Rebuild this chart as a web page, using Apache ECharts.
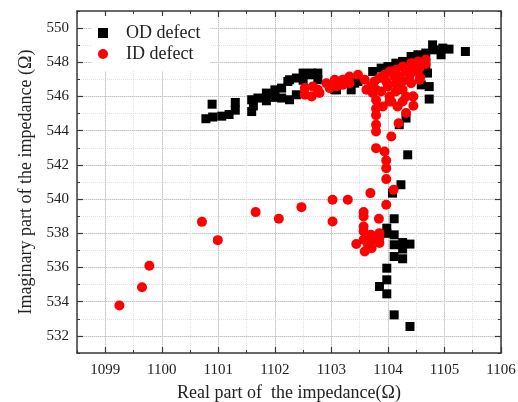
<!DOCTYPE html>
<html>
<head>
    <meta charset="utf-8">
    <title>impedance</title>
    <style type="text/css">
        * { margin: 0; padding: 0; }
        body { background: #fff; }
        #chart { width: 518px; height: 402px; }
    </style>
</head>
<body>
<div id="chart"></div>
<script src="https://cdn.jsdelivr.net/npm/echarts@6/dist/echarts.min.js"></script>
<script type="text/javascript">

    // OD defect (black squares)
    var odReal = [
        1100.78, 1100.90, 1100.89, 1101.06, 1101.19, 1101.30, 1101.30, 1101.59, 1101.59, 1101.62,
        1101.70, 1101.85, 1101.85, 1102.00, 1102.00, 1102.12, 1102.12, 1102.23, 1102.26, 1102.38,
        1102.38, 1102.50, 1102.65, 1102.76, 1102.76, 1102.50, 1102.62, 1102.26, 1103.06, 1103.09,
        1103.35, 1103.41, 1103.47, 1103.73, 1103.88, 1104.00, 1104.14, 1104.26, 1104.41, 1104.53,
        1104.67, 1104.79, 1104.82, 1104.94, 1104.97, 1105.08, 1105.37, 1104.67, 1104.70, 1104.73,
        1104.59, 1104.73, 1104.32, 1104.20, 1104.35, 1104.23, 1104.08, 1104.11, 1103.98, 1103.98,
        1104.11, 1104.11, 1104.26, 1104.26, 1104.39, 1104.11, 1104.26, 1103.98, 1103.98, 1103.85,
        1103.98, 1104.11, 1104.39
    ];
    var odImag = [
        544.70, 544.80, 545.55, 544.85, 544.95, 545.20, 545.65, 545.81, 545.12, 545.45,
        545.91, 546.20, 545.75, 546.39, 545.95, 546.49, 545.91, 546.88, 545.81, 547.08,
        546.10, 547.37, 547.37, 547.37, 546.98, 546.95, 547.27, 546.98, 546.40, 546.39,
        546.39, 546.78, 546.88, 547.46, 547.66, 547.75, 547.95, 548.05, 548.34, 548.44,
        548.54, 549.02, 548.73, 548.44, 548.83, 548.77, 548.63, 547.56, 547.37, 546.58,
        546.68, 545.85, 544.74, 544.35, 542.59, 540.84, 540.35, 538.85, 538.30, 538.00,
        537.91, 537.33, 537.46, 537.08, 537.37, 536.64, 536.51, 535.96, 535.28, 534.89,
        534.46, 533.23, 532.55
    ];

    // ID defect (red circles)
    var idReal = [
        1099.25, 1099.65, 1099.78, 1100.71, 1100.99, 1101.66, 1102.07, 1102.47, 1103.02, 1103.29,
        1103.02, 1103.97, 1103.57, 1103.57, 1103.84, 1103.57, 1103.57, 1103.70, 1103.85, 1103.57,
        1103.44, 1103.59, 1103.71, 1103.85, 1103.85, 1103.73, 1103.65,
        1103.69, 1104.10, 1103.97, 1103.97, 1103.97, 1103.94, 1103.79, 1104.06, 1103.79, 1103.79,
        1103.79, 1103.79, 1103.79, 1103.91, 1104.06, 1104.17, 1104.32, 1104.45, 1104.45, 1104.32,
        1104.19, 1104.03, 1104.26, 1104.44,
        1102.53, 1102.67, 1102.79, 1102.91, 1103.06, 1103.20, 1103.32, 1103.47, 1103.59, 1103.62,
        1103.70, 1103.76, 1103.85, 1103.94, 1104.03, 1104.14, 1104.26, 1104.41, 1104.53, 1104.67,
        1102.53, 1102.65, 1102.76, 1102.97, 1103.09, 1103.20, 1103.32, 1103.73, 1103.88, 1104.00,
        1104.14, 1104.26, 1104.38, 1104.50, 1104.56, 1104.14, 1104.03, 1104.26, 1104.41, 1104.56,
        1104.20, 1103.79, 1103.97, 1104.32, 1104.44, 1104.11, 1104.57, 1104.67
    ];
    var idImag = [
        533.78, 534.85, 536.10, 538.67, 537.60, 539.24, 538.85, 539.53, 539.96, 539.96,
        538.69, 539.67, 539.24, 538.98, 538.85, 538.40, 538.11, 537.91, 538.01, 537.62,
        537.37, 536.94, 537.13, 537.43, 537.72, 537.62, 537.30,
        540.35, 540.54, 541.17, 541.81, 542.26, 542.78, 542.98, 543.66, 543.95, 544.35,
        544.90, 545.30, 545.80, 545.42, 545.71, 545.42, 546.00, 546.00, 545.46, 545.03,
        544.44, 545.71, 545.71, 546.00,
        546.49, 546.58, 546.20, 546.78, 546.98, 546.98, 547.17, 547.27, 546.98, 546.39,
        546.58, 546.88, 547.08, 547.27, 547.46, 547.56, 547.75, 547.95, 548.05, 548.15,
        546.10, 546.00, 546.39, 546.49, 546.58, 546.68, 546.78, 546.20, 546.29, 546.58,
        546.78, 546.88, 547.17, 547.46, 547.66, 546.29, 546.00, 546.39, 546.78, 546.98,
        547.17, 546.39, 546.88, 547.46, 547.66, 547.17, 547.11, 547.90
    ];

    var xMajor = [1099, 1100, 1101, 1102, 1103, 1104, 1105, 1106];
    var yMajor = [532, 534, 536, 538, 540, 542, 544, 546, 548, 550];

    function zip(a, b) {
        var out = [];
        for (var i = 0; i < a.length; i++) out.push([a[i], b[i]]);
        return out;
    }

    var serif = 'Liberation Serif';
    var axisColor = '#3a3a3a';

    var xRange = { min: 1098.5, max: 1106 };
    var yRange = { min: 531, max: 551 };

    var myChart = echarts.init(document.getElementById('chart'));

    var option = {
        animation: false,
        backgroundColor: '#fff',
        grid: { left: 77, right: 17, top: 11, bottom: 49, outerBoundsMode: 'none', containLabel: false },
        legend: {
            orient: 'vertical',
            left: 92,
            top: 16,
            padding: [8, 10, 8, 6],
            itemGap: 3,
            itemWidth: 10,
            itemHeight: 10,
            backgroundColor: '#fff',
            textStyle: { fontFamily: serif, fontSize: 18, color: '#222', padding: [0, 0, 0, 13] },
            data: [
                { name: 'OD defect', icon: 'rect' },
                { name: 'ID defect', icon: 'circle' }
            ]
        },
        xAxis: [
            {   // bottom, labels + major ticks + solid grid
                type: 'value', position: 'bottom',
                min: xRange.min, max: xRange.max,
                name: 'Real part of  the impedance(Ω)',
                nameLocation: 'middle', nameGap: 31,
                nameTextStyle: { fontFamily: serif, fontSize: 18, color: '#222' },
                axisLine: { lineStyle: { color: axisColor, width: 1.5 } },
                axisTick: { inside: true, length: 6, customValues: xMajor, lineStyle: { color: axisColor, width: 1.2 } },
                axisLabel: {
                    customValues: xMajor, margin: 10, fontFamily: serif, fontSize: 15, color: '#222',
                    formatter: function (v) { return String(v); }
                },
                splitLine: { show: true, lineStyle: { color: '#c4c4c4', width: 1 } }
            },
            {   // top, major ticks
                type: 'value', position: 'top',
                min: xRange.min, max: xRange.max,
                axisLine: { lineStyle: { color: axisColor, width: 1.5 } },
                axisTick: { inside: true, length: 6, customValues: xMajor, lineStyle: { color: axisColor, width: 1.2 } },
                axisLabel: { show: false },
                splitLine: { show: false }
            },
            {   // bottom minor ticks + dotted grid
                type: 'value', position: 'bottom',
                min: xRange.min, max: xRange.max, interval: 0.5,
                axisLine: { show: false },
                axisTick: { inside: true, length: 3, lineStyle: { color: axisColor, width: 1 } },
                axisLabel: { show: false },
                splitLine: { show: true, lineStyle: { color: '#e2e2e2', type: 'dotted', width: 1 } }
            },
            {   // top minor ticks
                type: 'value', position: 'top',
                min: xRange.min, max: xRange.max, interval: 0.5,
                axisLine: { show: false },
                axisTick: { inside: true, length: 3, lineStyle: { color: axisColor, width: 1 } },
                axisLabel: { show: false },
                splitLine: { show: false }
            }
        ],
        yAxis: [
            {
                type: 'value', position: 'left',
                min: yRange.min, max: yRange.max,
                name: 'Imaginary part of the impedance (Ω)',
                nameLocation: 'middle', nameGap: 41,
                nameTextStyle: { fontFamily: serif, fontSize: 18, color: '#222' },
                axisLine: { show: true, lineStyle: { color: axisColor, width: 1.5 } },
                axisTick: { show: true, inside: true, length: 6, customValues: yMajor, lineStyle: { color: axisColor, width: 1.2 } },
                axisLabel: { customValues: yMajor, margin: 8, fontFamily: serif, fontSize: 15, color: '#222' },
                splitLine: { show: true, lineStyle: { color: '#c4c4c4', width: 1 } }
            },
            {
                type: 'value', position: 'right',
                min: yRange.min, max: yRange.max,
                axisLine: { show: true, lineStyle: { color: axisColor, width: 1.5 } },
                axisTick: { show: true, inside: true, length: 6, customValues: yMajor, lineStyle: { color: axisColor, width: 1.2 } },
                axisLabel: { show: false },
                splitLine: { show: false }
            },
            {
                type: 'value', position: 'left',
                min: yRange.min, max: yRange.max, interval: 1,
                axisLine: { show: false },
                axisTick: { show: true, inside: true, length: 3, lineStyle: { color: axisColor, width: 1 } },
                axisLabel: { show: false },
                splitLine: { show: true, lineStyle: { color: '#e2e2e2', type: 'dotted', width: 1 } }
            },
            {
                type: 'value', position: 'right',
                min: yRange.min, max: yRange.max, interval: 1,
                axisLine: { show: false },
                axisTick: { show: true, inside: true, length: 3, lineStyle: { color: axisColor, width: 1 } },
                axisLabel: { show: false },
                splitLine: { show: false }
            }
        ],
        series: [
            {
                name: 'OD defect',
                type: 'scatter',
                xAxisIndex: 0, yAxisIndex: 0,
                symbol: 'rect',
                symbolSize: 9,
                itemStyle: { color: '#000', opacity: 1 },
                data: zip(odReal, odImag),
                z: 3
            },
            {
                name: 'ID defect',
                type: 'scatter',
                xAxisIndex: 0, yAxisIndex: 0,
                symbol: 'circle',
                symbolSize: 10,
                itemStyle: { color: '#ff0000', opacity: 1 },
                data: zip(idReal, idImag),
                z: 4
            }
        ]
    };

    myChart.setOption(option);
</script>
</body>
</html>
